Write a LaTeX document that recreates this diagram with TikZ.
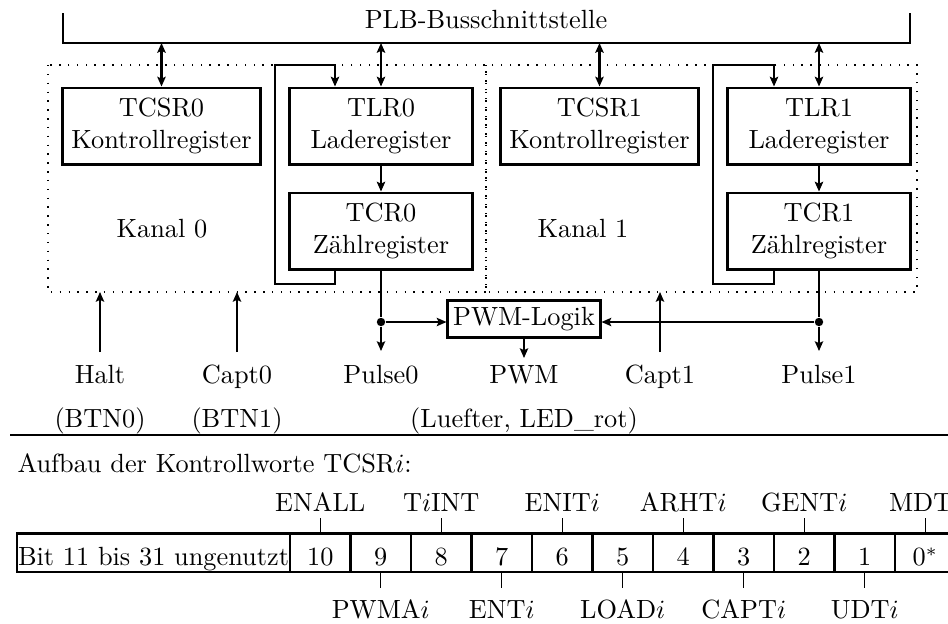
\documentclass[tikz,border=0pt]{standalone}
\usetikzlibrary{arrows.meta}

\tikzset{
  regbox/.style={draw, line width=1.12pt, minimum height=28.9pt, inner sep=0pt, align=center},
  widebox/.style={regbox, minimum width=74.9pt},
  narrowbox/.style={regbox, minimum width=69.2pt},
  busline/.style={line width=1.12pt},
  link/.style={line width=1.0pt},
  sig/.style={line width=0.56pt},
  tip/.style={-{Stealth[length=3.7pt,width=3.2pt,inset=0.7pt]}},
  bothtips/.style={{Stealth[length=3.7pt,width=3.2pt,inset=0.7pt]}-{Stealth[length=3.7pt,width=3.2pt,inset=0.7pt]}},
  chanframe/.style={line width=0.56pt, dash pattern=on 0.56pt off 2.8pt},
  junction/.style={circle, fill, inner sep=0pt, minimum size=3.2pt},
  cell/.style={draw, line width=1.12pt, minimum width=23pt, minimum height=14.8pt,
               inner sep=0pt, text height=10.2pt, text depth=0pt},
  lab/.style={anchor=base, inner sep=0pt},
}

\begin{document}
\begin{tikzpicture}[x=0.38pt, y=-0.38pt]
  \clip (0,0) rectangle (948,623);

  % ---------- PLB bus ----------
  \coordinate (busL) at (63,13);
  \coordinate (busR) at (910,13);
  \coordinate (busY) at (0,43);
  \draw[busline] (busL) -- (busL |- busY) -- (busR |- busY) -- (busR);
  \node[lab] (plb) at (486,28) {PLB-Busschnittstelle};

  % ---------- channel frames ----------
  \draw[chanframe] (48,65) rectangle (486,292);
  \draw[chanframe] (486,65) rectangle (917,292);

  % ---------- registers ----------
  \node[widebox]   (tcsr0) at (161.5,126) {TCSR0\\Kontrollregister};
  \node[narrowbox] (tlr0)  at (381,126)   {TLR0\\Laderegister};
  \node[narrowbox] (tcr0)  at (381,231)   {TCR0\\Z\"ahlregister};
  \node (kanal0) at (162,229) {Kanal 0};

  \node[widebox]   (tcsr1) at (599.5,126) {TCSR1\\Kontrollregister};
  \node[narrowbox] (tlr1)  at (819,126)   {TLR1\\Laderegister};
  \node[narrowbox] (tcr1)  at (819,231)   {TCR1\\Z\"ahlregister};
  \node (kanal1) at (583,229) {Kanal 1};

  % bus access
  \foreach \r in {tcsr0,tlr0,tcsr1,tlr1}
    \draw[link,bothtips] (\r.north |- busY) -- (\r.north);

  % load -> count
  \draw[link,tip] (tlr0) -- (tcr0);
  \draw[link,tip] (tlr1) -- (tcr1);

  % reload loops
  \coordinate (a0) at (335,284);
  \coordinate (b0) at (275,65);
  \draw[link,tip] (tcr0.south -| a0) -- (a0) -- (a0 -| b0) -- (b0) -- (b0 -| a0) -- (tlr0.north -| a0);
  \coordinate (a1) at (774,284);
  \coordinate (b1) at (713,65);
  \draw[link,tip] (tcr1.south -| a1) -- (a1) -- (a1 -| b1) -- (b1) -- (b1 -| a1) -- (tlr1.north -| a1);

  % ---------- PWM logic and outputs ----------
  \coordinate (py) at (0,322);
  \coordinate (ay) at (0,351);
  \coordinate (fy) at (0,292);
  \node[draw, line width=1.12pt, minimum width=57.8pt, minimum height=14.4pt, inner sep=0pt]
    (pwm) at (524,319) {PWM-Logik};

  \node[junction] (d0) at (tcr0.south |- py) {};
  \node[junction] (d1) at (tcr1.south |- py) {};
  \draw[sig] (tcr0.south) -- (d0);
  \draw[sig] (tcr1.south) -- (d1);
  \draw[sig,tip] (d0) -- (d0 |- ay);
  \draw[sig,tip] (d1) -- (d1 |- ay);
  \draw[sig,tip] (d0) -- (d0 -| pwm.west);
  \draw[sig,tip] (d1) -- (d1 -| pwm.east);

  \node[lab] (halt)   at (100,383) {Halt};
  \node[lab] (btn0)   at (100,427) {(BTN0)};
  \node[lab] (capt0)  at (237,383) {Capt0};
  \node[lab] (btn1)   at (237,427) {(BTN1)};
  \node[lab] (pulse0) at (381,383) {Pulse0};
  \node[lab] (pwmout) at (524,383) {PWM};
  \node[lab] (fan)    at (524,427) {(Luefter, LED\_rot)};
  \node[lab] (capt1)  at (660,383) {Capt1};
  \node[lab] (pulse1) at (819,383) {Pulse1};

  \coordinate (sy) at (0,352);
  \draw[sig,tip] (halt |- sy)  -- (halt |- fy);
  \draw[sig,tip] (capt0 |- sy) -- (capt0 |- fy);
  \draw[sig,tip] (capt1 |- sy) -- (capt1 |- fy);
  \coordinate (wy) at (0,358);
  \draw[sig,tip] (pwm.south) -- (pwm.south |- wy);

  % separator
  \draw[sig] (10,435) -- (948,435);

  % ---------- control word layout ----------
  \node[anchor=base west, inner sep=0pt] (title) at (17,472) {Aufbau der Kontrollworte TCSR$i$:};

  \node[cell, minimum width=103.74pt] (unused) at (153.5,552.5) {Bit 11 bis 31 ungenutzt};
  \foreach \b/\t in {10/10,9/9,8/8,7/7,6/6,5/5,4/4,3/3,2/2,1/1,0/{0$^*$}}
    \node[cell] (c\b) at ({290+(10-\b)*60.5+30.25},552.5) {\t};

  \foreach \b/\t in {10/ENALL,8/T$i$INT,6/ENIT$i$,4/ARHT$i$,2/GENT$i$,0/MDT$i$}{
    \draw[sig] (c\b.north) -- ++(0,-14);
    \path (c\b.north) ++(0,-20) node[lab] (up\b) {\t};
  }
  \foreach \b/\t in {9/PWMA$i$,7/ENT$i$,5/LOAD$i$,3/CAPT$i$,1/UDT$i$}{
    \draw[sig] (c\b.south) -- ++(0,15);
    \path (c\b.south) ++(0,45) node[lab] (dn\b) {\t};
  }
\end{tikzpicture}
\end{document}
